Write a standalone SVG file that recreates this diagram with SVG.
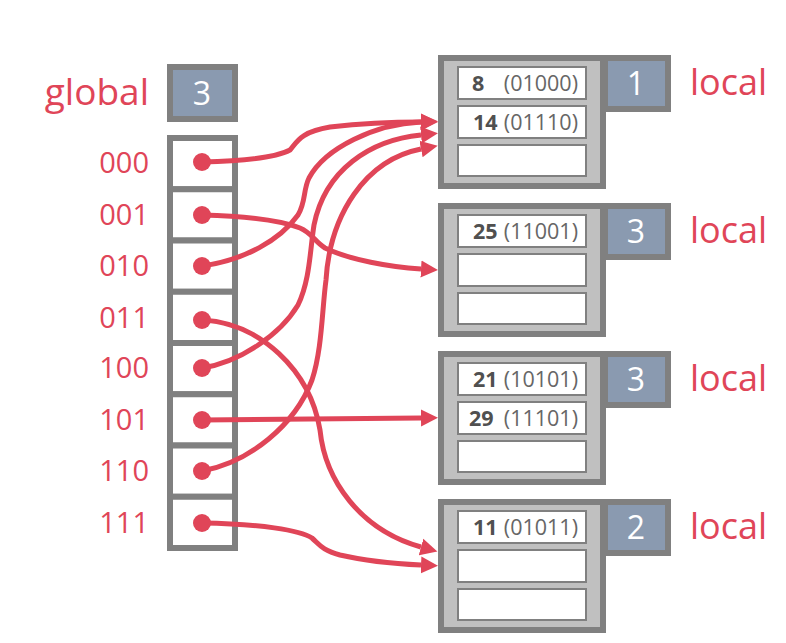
<svg xmlns="http://www.w3.org/2000/svg" width="786" height="643" viewBox="0 0 786 643">
<style>
.lbl{fill:#e04558;font-family:"Open Sans","Noto Sans",sans-serif}
.bo{fill:#c0c0c0;stroke:#808080;stroke-width:6}
.dp{fill:#8a9ab0;stroke:#808080;stroke-width:6}
.sl{fill:#fff;stroke:#808080;stroke-width:2}
.cell{fill:#fff;stroke:#808080;stroke-width:6}
.num{font-family:"Open Sans","Noto Sans",sans-serif;font-weight:bold;font-size:21.5px;fill:#505050}
.bin{font-family:"Open Sans","Noto Sans",sans-serif;font-size:21.5px;fill:#666;text-anchor:end}
.dg{font-family:"Open Sans","Noto Sans",sans-serif;font-size:32px;fill:#fff;text-anchor:middle}
.conn path{fill:none;stroke:#e04558;stroke-width:5;marker-end:url(#ah)}
.conn circle{fill:#e04558}
</style>
<defs>
<marker id="ah" viewBox="0 -9 18 18" refX="0" refY="0" markerWidth="18" markerHeight="18" markerUnits="userSpaceOnUse" orient="auto"><path d="M0,-8.5 L17,0 L0,8.5 z" fill="#e04558"/></marker>
</defs>
<rect width="786" height="643" fill="#fff"/>

<g id="global">
<text class="lbl" x="149" y="105" font-size="37" text-anchor="end">global</text>
<rect class="dp" x="170" y="67" width="65" height="52"/>
<text class="dg" x="202" y="105" font-size="31">3</text>
</g>

<g id="directory">
<rect class="cell" x="170" y="138" width="65" height="51.25"/>
<rect class="cell" x="170" y="189.25" width="65" height="51.25"/>
<rect class="cell" x="170" y="240.5" width="65" height="51.25"/>
<rect class="cell" x="170" y="291.75" width="65" height="51.25"/>
<rect class="cell" x="170" y="343" width="65" height="51.25"/>
<rect class="cell" x="170" y="394.25" width="65" height="51.25"/>
<rect class="cell" x="170" y="445.5" width="65" height="51.25"/>
<rect class="cell" x="170" y="496.75" width="65" height="51.25"/>
<g class="lbl" font-size="29" text-anchor="end">
<text x="149" y="173">000</text>
<text x="149" y="225">001</text>
<text x="149" y="276">010</text>
<text x="149" y="328">011</text>
<text x="149" y="378">100</text>
<text x="149" y="430">101</text>
<text x="149" y="481">110</text>
<text x="149" y="533">111</text>
</g>
</g>

<g id="bucket1">
<rect class="bo" x="441" y="58" width="162" height="128"/>
<rect class="dp" x="605" y="58" width="63" height="51"/>
<text class="dg" x="636" y="95">1</text>
<rect class="sl" x="458" y="67" width="128" height="32"/>
<rect class="sl" x="458" y="106" width="128" height="32"/>
<rect class="sl" x="458" y="145" width="128" height="31"/>
<text class="num" x="472" y="91">8</text><text class="bin" x="578" y="91">(01000)</text>
<text class="num" x="473" y="130">14</text><text class="bin" x="578" y="130">(01110)</text>
<text class="lbl" x="690" y="95" font-size="36">local</text>
</g>

<g id="bucket2">
<rect class="bo" x="441" y="206" width="162" height="128"/>
<rect class="dp" x="605" y="206" width="63" height="51"/>
<text class="dg" x="636" y="243">3</text>
<rect class="sl" x="458" y="215" width="128" height="32"/>
<rect class="sl" x="458" y="254" width="128" height="32"/>
<rect class="sl" x="458" y="293" width="128" height="31"/>
<text class="num" x="473" y="239">25</text><text class="bin" x="578" y="239">(11001)</text>
<text class="lbl" x="690" y="243" font-size="36">local</text>
</g>

<g id="bucket3">
<rect class="bo" x="441" y="354" width="162" height="128"/>
<rect class="dp" x="605" y="354" width="63" height="51"/>
<text class="dg" x="636" y="391">3</text>
<rect class="sl" x="458" y="363" width="128" height="32"/>
<rect class="sl" x="458" y="402" width="128" height="32"/>
<rect class="sl" x="458" y="441" width="128" height="31"/>
<text class="num" x="473" y="387">21</text><text class="bin" x="578" y="387">(10101)</text>
<text class="num" x="469" y="426">29</text><text class="bin" x="578" y="426">(11101)</text>
<text class="lbl" x="690" y="391" font-size="36">local</text>
</g>

<g id="bucket4">
<rect class="bo" x="441" y="502" width="162" height="128"/>
<rect class="dp" x="605" y="502" width="63" height="51"/>
<text class="dg" x="636" y="539">2</text>
<rect class="sl" x="458" y="511" width="128" height="32"/>
<rect class="sl" x="458" y="550" width="128" height="32"/>
<rect class="sl" x="458" y="589" width="128" height="31"/>
<text class="num" x="473" y="535">11</text><text class="bin" x="578" y="535">(01011)</text>
<text class="lbl" x="690" y="539" font-size="36">local</text>
</g>

<g id="connectors" class="conn">
<path d="M202,162 C245,161 275,158 290,150 C297,142 300,132 330,127 C365,123 395,122 421,122"/>
<path d="M202,215 C240,216 280,220 300,228 C312,233 315,242 325,248 C350,260 390,267 421,269"/>
<path d="M202,266 C245,260 280,240 298,215 C306,202 303,190 309,178 C325,148 375,124 421,122"/>
<path d="M202,320 C260,323 310,370 320,430 C325,480 360,530 421,547"/>
<path d="M202,368 C240,362 280,335 298,305 C310,280 310,250 314,225 C325,170 370,140 421,135"/>
<path d="M202,420 L421,418"/>
<path d="M202,471 C250,462 295,425 312,380 C322,350 322,310 326,280 C330,215 365,160 421,149"/>
<path d="M202,523 C260,524 300,530 312,538 C320,545 322,550 340,555 C370,562 400,564 421,565"/>
<circle cx="202" cy="162" r="9"/>
<circle cx="202" cy="215" r="9"/>
<circle cx="202" cy="266" r="9"/>
<circle cx="202" cy="320" r="9"/>
<circle cx="202" cy="368" r="9"/>
<circle cx="202" cy="420" r="9"/>
<circle cx="202" cy="471" r="9"/>
<circle cx="202" cy="523" r="9"/>
</g>
</svg>
